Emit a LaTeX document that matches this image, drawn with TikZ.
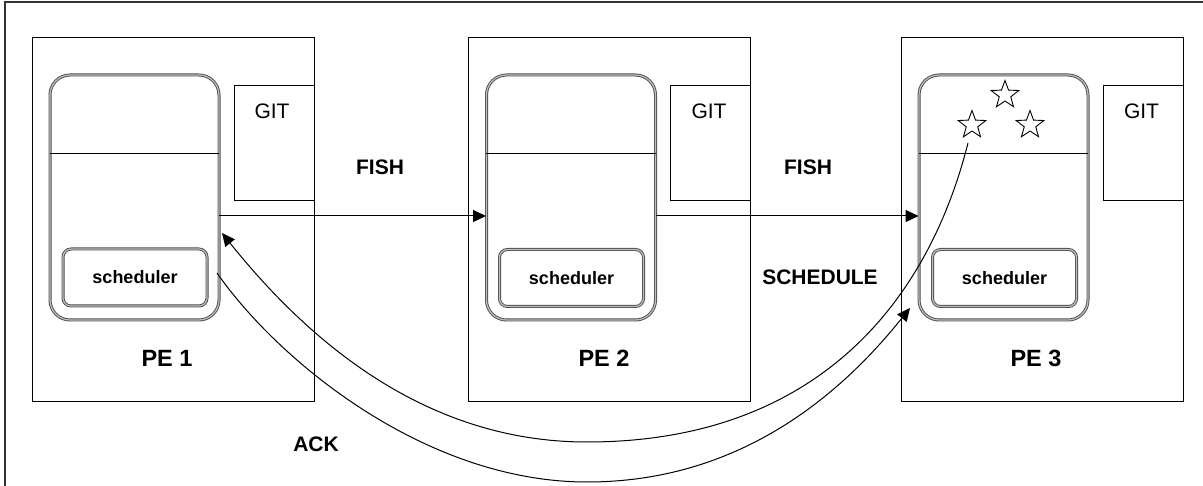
\documentclass[tikz,border=0pt]{standalone}
\usepackage{fontspec}
\setmainfont{Liberation Sans}
\usetikzlibrary{arrows.meta, shapes.geometric}

\begin{document}
\begin{tikzpicture}[x=1pt, y=-1pt,
  pe/.style={draw, line width=1pt, minimum width=282pt, minimum height=364pt, inner sep=0pt},
  core/.style={draw=black!70, double=black!25, double distance=1.2pt, line width=0.9pt,
               rounded corners=20pt, minimum width=169pt, minimum height=245pt, inner sep=0pt},
  sched/.style={draw=black!70, double=black!25, double distance=1.2pt, line width=0.9pt,
                rounded corners=8pt, minimum width=144pt, minimum height=57pt, inner sep=0pt,
                font=\fontsize{18}{20}\selectfont\bfseries},
  git/.style={draw, line width=1pt, minimum width=80pt, minimum height=115pt, inner sep=0pt},
  gitlbl/.style={font=\fontsize{21}{24}\selectfont},
  lbl/.style={font=\fontsize{21}{24}\selectfont\bfseries},
  pelbl/.style={font=\fontsize{23.5}{26}\selectfont\bfseries},
  fav/.style={draw, line width=0.9pt, star, star points=5, star point ratio=2.4,
              minimum size=29pt, inner sep=0pt},
  arr/.style={-{Triangle[length=13pt, width=12pt]}, line width=1pt}
]
  \useasboundingbox (0,0) rectangle (1203,486);
  \draw[line width=1.4pt, black!80] (5,486) -- (5,2) -- (1203,2);

  % processing elements
  \node[pe] (pe1) at (173,220) {};
  \node[pe] (pe2) at (609,220) {};
  \node[pe] (pe3) at (1042,220) {};

  \node[git] (git1) at (274,143.5) {};
  \node[git] (git2) at (710,143.5) {};
  \node[git] (git3) at (1143,143.5) {};
  \node[gitlbl] (gt1) at (272,111) {GIT};
  \node[gitlbl] (gt2) at (709,111) {GIT};
  \node[gitlbl] (gt3) at (1141.5,111) {GIT};

  \node[core] (core1) at (134.5,197.5) {};
  \node[core] (core2) at (571,197.5) {};
  \node[core] (core3) at (1003.5,197.5) {};
  \draw (core1.west |- 0,153) -- (core1.east |- 0,153);
  \draw (core2.west |- 0,153) -- (core2.east |- 0,153);
  \draw (core3.west |- 0,153) -- (core3.east |- 0,153);

  \node[sched] (sch1) at (135,277.5) {scheduler};
  \node[sched] (sch2) at (571.5,278) {scheduler};
  \node[sched] (sch3) at (1004.5,278) {scheduler};

  \node[pelbl] (pe1lbl) at (167,358) {PE 1};
  \node[pelbl] (pe2lbl) at (604,358) {PE 2};
  \node[pelbl] (pe3lbl) at (1036,358) {PE 3};

  % tasks waiting on PE 3
  \node[fav] (s1) at (972,125) {};
  \node[fav] (s2) at (1005,95) {};
  \node[fav] (s3) at (1030,125) {};

  % messages
  \node[lbl] (fish1) at (380,167) {FISH};
  \node[lbl] (fish2) at (808,167) {FISH};
  \node[lbl] (schedlbl) at (820,277) {SCHEDULE};
  \node[lbl] (ack) at (316,444) {ACK};

  \coordinate (f1) at (core1.east |- 0,216);
  \coordinate (f2) at (core2.west |- 0,216);
  \coordinate (f3) at (core2.east |- 0,216);
  \coordinate (f4) at (core3.west |- 0,216);
  \draw[arr] (f1) -- (f2);
  \draw[arr] (f3) -- (f4);

  \coordinate (ackout) at (968,143);
  \coordinate (ackin) at (222,233);
  \coordinate (schout) at (217,273);
  \coordinate (schin) at (910,308);
  \draw[arr] (ackout) .. controls (925,313) and (807,442) .. (587,442)
                      .. controls (427,442) and (310,343) .. (ackin);
  \draw[arr] (schout) .. controls (280,363) and (427,482) .. (587,482)
                      .. controls (737,482) and (838,398) .. (schin);
\end{tikzpicture}
\end{document}
